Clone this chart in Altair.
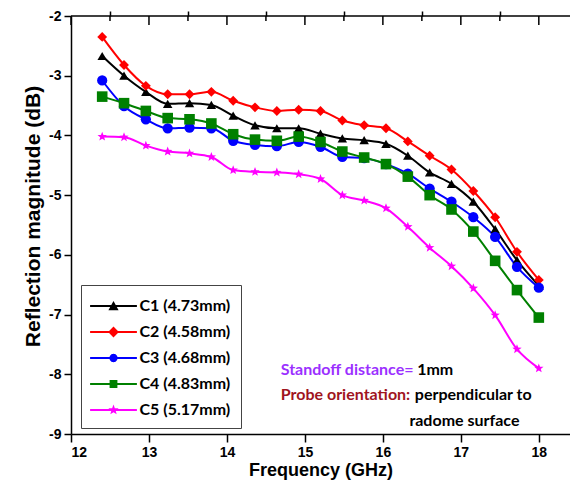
import altair as alt
import pandas as pd

# ---------------- data ----------------
freq = [12.40, 12.68, 12.96, 13.24, 13.52, 13.80, 14.08, 14.36, 14.64, 14.92, 15.20,
        15.48, 15.76, 16.04, 16.32, 16.60, 16.88, 17.16, 17.44, 17.72, 18.00]
c1 = [-2.67, -3.00, -3.27, -3.47, -3.46, -3.49, -3.67, -3.83, -3.88, -3.88, -3.97,
      -4.05, -4.08, -4.14, -4.34, -4.62, -4.81, -5.11, -5.57, -6.09, -6.52]
c2 = [-2.35, -2.82, -3.17, -3.31, -3.31, -3.27, -3.42, -3.53, -3.59, -3.57, -3.59,
      -3.75, -3.83, -3.88, -4.10, -4.34, -4.57, -4.93, -5.37, -5.95, -6.42]
c3 = [-3.08, -3.51, -3.73, -3.88, -3.87, -3.88, -4.09, -4.16, -4.18, -4.11, -4.19,
      -4.36, -4.38, -4.48, -4.64, -4.89, -5.11, -5.37, -5.70, -6.20, -6.55]
c4 = [-3.35, -3.46, -3.59, -3.71, -3.73, -3.80, -3.98, -4.07, -4.09, -4.02, -4.11,
      -4.27, -4.37, -4.48, -4.69, -5.00, -5.24, -5.61, -6.10, -6.59, -7.05]
c5 = [-4.02, -4.03, -4.17, -4.27, -4.30, -4.36, -4.58, -4.61, -4.62, -4.65, -4.73,
      -5.00, -5.09, -5.22, -5.53, -5.88, -6.19, -6.56, -7.01, -7.58, -7.90]

series_names = ["C1 (4.73mm)", "C2 (4.58mm)", "C3 (4.68mm)", "C4 (4.83mm)", "C5 (5.17mm)"]
series_values = [c1, c2, c3, c4, c5]
series_colors = ["#000000", "#FF0000", "#0000FF", "#008000", "#FF00FF"]

STAR = ("M0,-0.9L0.223,-0.307L0.856,-0.278L0.361,0.117L0.529,0.728L0,0.38"
        "L-0.529,0.728L-0.361,0.117L-0.856,-0.278L-0.223,-0.307Z")
series_shapes = ["triangle-up", "diamond", "circle", "square", STAR]
series_sizes = [90, 120, 75, 70, 190]

x_major = [12, 13, 14, 15, 16, 17, 18]
x_minor = [12.5, 13.5, 14.5, 15.5, 16.5, 17.5]
y_major = [-9, -8, -7, -6, -5, -4, -3, -2]
y_minor = [-8.5, -7.5, -6.5, -5.5, -4.5, -3.5, -2.5]

# legend symbols: line segment + marker (custom SVG paths)
LINE = "M-3.9,-0.17L3.9,-0.17L3.9,0.17L-3.9,0.17Z"
legend_paths = [
    LINE + "M0,-0.85L0.85,0.7L-0.85,0.7Z",
    LINE + "M0,-0.9L0.9,0L0,0.9L-0.9,0Z",
    LINE + "M0.7,0L0.606,0.35L0.35,0.606L0,0.7L-0.35,0.606L-0.606,0.35L-0.7,0"
           "L-0.606,-0.35L-0.35,-0.606L0,-0.7L0.35,-0.606L0.606,-0.35Z",
    LINE + "M-0.65,-0.65L0.65,-0.65L0.65,0.65L-0.65,0.65Z",
    LINE + STAR,
]

rows = []
for name, vals in zip(series_names, series_values):
    for f, v in zip(freq, vals):
        rows.append({"series": name, "freq": f, "value": v})
df = pd.DataFrame(rows)

W, H = 499, 418
AXIS_FONT = "Liberation Sans"
TXT_FONT = "Lato"

xscale = alt.Scale(domain=[12, 18.4], nice=False, zero=False)
yscale = alt.Scale(domain=[-9, -2], nice=False, zero=False)
color_scale = alt.Scale(domain=series_names, range=series_colors)

x_axis_main = alt.Axis(values=x_major, tickSize=8, labelPadding=3, title="Frequency (GHz)",
                       titleFontSize=18, titlePadding=2, labelExpr="toString(datum.value)")
y_axis_main = alt.Axis(values=y_major, tickSize=7, labelPadding=3,
                       title="Reflection magnitude (dB)", titleFontSize=21, titlePadding=5,
                       titleY=200, labelExpr="toString(datum.value)")
x_axis_minor = alt.Axis(values=x_minor, tickSize=5, labels=False, domain=False, title=None)
y_axis_minor = alt.Axis(values=y_minor, tickSize=4, labels=False, domain=False, title=None)

base = alt.Chart(df)

lines = base.mark_line(strokeWidth=2, interpolate="monotone").encode(
    x=alt.X("freq:Q", scale=xscale, axis=x_axis_main),
    y=alt.Y("value:Q", scale=yscale, axis=y_axis_main),
    color=alt.Color("series:N", scale=color_scale, legend=None),
)

points = base.mark_point(filled=True, opacity=1).encode(
    x=alt.X("freq:Q", scale=xscale, axis=x_axis_minor),
    y=alt.Y("value:Q", scale=yscale, axis=y_axis_minor),
    color=alt.Color("series:N", scale=color_scale, legend=None),
    shape=alt.Shape("series:N", scale=alt.Scale(domain=series_names, range=series_shapes), legend=None),
    size=alt.Size("series:N", scale=alt.Scale(domain=series_names, range=series_sizes), legend=None),
)

leg = alt.Legend(
    title=" ", titleFontSize=1, titlePadding=2, orient="none", legendX=10, legendY=269,
    direction="vertical", padding=10, strokeColor="#444444", fillColor="white",
    labelFont=TXT_FONT, labelFontWeight="bold", labelFontSize=16, labelColor="black",
    symbolSize=144, symbolStrokeWidth=0, symbolOffset=14.5, labelOffset=18, rowPadding=10,
    symbolOpacity=1,
)

legend_layer = base.transform_filter(alt.datum.series == "__none__").mark_point(
    filled=True, opacity=1
).encode(
    x=alt.X("freq:Q", scale=xscale, axis=None),
    y=alt.Y("value:Q", scale=yscale, axis=None),
    fill=alt.Fill("series:N", scale=alt.Scale(domain=series_names, range=series_colors), legend=leg),
    shape=alt.Shape("series:N", scale=alt.Scale(domain=series_names, range=legend_paths), legend=leg),
)

top_major = alt.Chart(pd.DataFrame({"t": x_major})).mark_rule(color="black", strokeWidth=1.5).encode(
    x=alt.X("t:Q", scale=xscale, axis=None), y=alt.value(0), y2=alt.value(9))
top_minor = alt.Chart(pd.DataFrame({"t": x_minor})).mark_rule(color="black", strokeWidth=1.5).encode(
    x=alt.X("t:Q", scale=xscale, axis=None), y=alt.value(0), y2=alt.value(5))
top_line = alt.Chart(pd.DataFrame({"a": [0]})).mark_rule(color="black", strokeWidth=1.5).encode(
    x=alt.value(0), x2=alt.value(W), y=alt.value(0))

def note(txt, xv, yv, color):
    return alt.Chart(pd.DataFrame({"x": [xv], "y": [yv], "t": [txt]})).mark_text(
        align="left", baseline="middle", font=TXT_FONT, fontWeight="bold", fontSize=16, color=color
    ).encode(x=alt.X("x:Q", scale=xscale, axis=None), y=alt.Y("y:Q", scale=yscale, axis=None), text="t:N")

notes = [
    note("Standoff distance=", 14.69, -7.93, "#9B30FF"),
    note("1mm", 16.44, -7.93, "#000000"),
    note("Probe orientation:", 14.69, -8.35, "#A0141E"),
    note("perpendicular to", 16.41, -8.35, "#000000"),
    note("radome surface", 16.34, -8.78, "#000000"),
]

chart = alt.layer(lines, points, legend_layer, top_major, top_minor, top_line, *notes).resolve_scale(
    shape="independent", fill="independent"
).resolve_axis(
    x="independent", y="independent"
).properties(
    width=W, height=H,
    padding={"left": 71, "top": 16, "right": 0, "bottom": 55},
    autosize=alt.AutoSizeParams(type="none"),
    background="white",
).configure_view(stroke=None).configure_axis(
    grid=False, domainColor="black", domainWidth=1.5, tickColor="black", tickWidth=1.5,
    labelFont=AXIS_FONT, labelFontWeight="bold", labelFontSize=14, labelColor="black",
    titleFont=AXIS_FONT, titleFontWeight="bold", titleColor="black",
)

chart.save("out.html", embed_options={"renderer": "svg", "actions": False})
